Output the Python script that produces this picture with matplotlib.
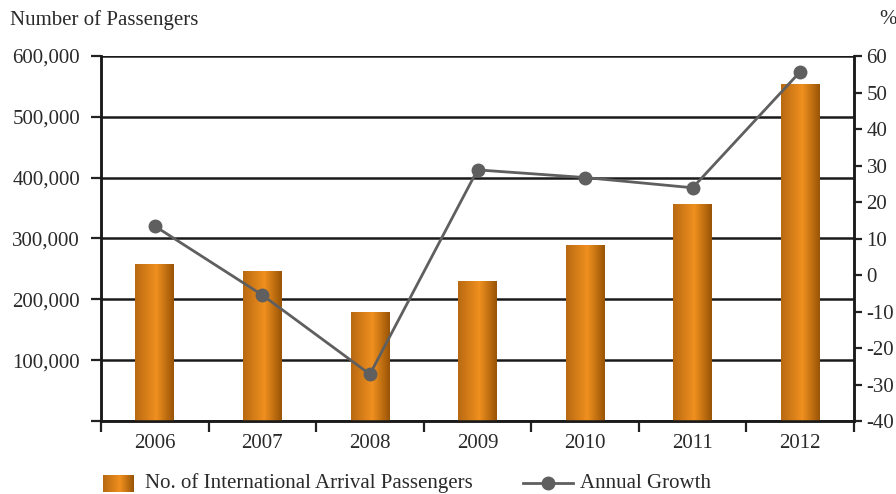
import matplotlib
matplotlib.use('Agg')
import matplotlib.pyplot as plt
import numpy as np
from matplotlib.colors import LinearSegmentedColormap
from matplotlib.lines import Line2D
from matplotlib.ticker import FuncFormatter

years = ['2006', '2007', '2008', '2009', '2010', '2011', '2012']
passengers = [258000, 245000, 178000, 228500, 289000, 356500, 553000]
growth = [13.4, -5.5, -27.2, 28.8, 26.7, 23.9, 55.7]

plt.rcParams['font.family'] = ['Liberation Serif', 'DejaVu Serif']
plt.rcParams['font.size'] = 15
plt.rcParams['axes.unicode_minus'] = False
txt_col = '#2a2a2a'

fig = plt.figure(figsize=(8.96, 4.94), dpi=100)
ax1 = fig.add_axes([101 / 896, 1 - 421 / 494, 753 / 896, 365 / 494])
ax2 = ax1.twinx()

x = np.arange(len(years))
bars = ax1.bar(x, passengers, width=0.36, color='none', edgecolor='none', zorder=3)

# orange gradient inside each bar
orange = LinearSegmentedColormap.from_list(
    'orng', [(0, '#b86912'), (0.55, '#f0901f'), (1, '#985406')])
grad = np.linspace(0, 1, 256).reshape(1, -1)
for b in bars:
    ax1.imshow(grad, cmap=orange, aspect='auto', zorder=3,
               extent=[b.get_x(), b.get_x() + b.get_width(), 0, b.get_height()])

ax1.set_xlim(-0.5, len(years) - 0.5)
ax1.set_ylim(0, 600000)
ax1.set_yticks(range(0, 600001, 100000))
ax1.yaxis.set_major_formatter(FuncFormatter(lambda v, p: '{:,.0f}'.format(v) if v else ''))
ax1.set_xticks(x)
ax1.set_xticklabels(years)
ax1.set_xticks(np.arange(-0.5, len(years)), minor=True)
ax1.tick_params(axis='x', which='major', length=0, pad=9, colors=txt_col)
ax1.tick_params(axis='x', which='minor', length=8, width=1.6, direction='out', color='#222222')
ax1.tick_params(axis='y', length=7, width=1.6, direction='out', color='#222222',
                labelcolor=txt_col, pad=8)
ax1.grid(axis='y', color='#1a1a1a', linewidth=1.8, zorder=1)
ax1.set_axisbelow(True)

ax2.plot(x, growth, color='#5f5f5f', linewidth=2, marker='o', markersize=9, zorder=5)
ax2.set_ylim(-40, 60)
ax2.set_yticks(range(-40, 61, 10))
ax2.tick_params(axis='y', length=6, width=1.6, direction='out', color='#222222',
                labelcolor=txt_col, pad=3)

for a in (ax1, ax2):
    a.spines['top'].set_visible(False)
    for s in ('left', 'right', 'bottom'):
        a.spines[s].set_linewidth(1.8)
        a.spines[s].set_color('#1a1a1a')

fig.text(10 / 896, 1 - 20 / 494, 'Number of Passengers', ha='left', va='center',
         color=txt_col)
fig.text(879 / 896, 1 - 20 / 494, '%', ha='left', va='center', color=txt_col)

# legend drawn by hand so the swatch keeps the gradient
sw = fig.add_axes([103 / 896, 1 - 492 / 494, 30 / 896, 17 / 494])
sw.imshow(grad, cmap=orange, aspect='auto')
sw.axis('off')
fig.text(145 / 896, 1 - 483 / 494, 'No. of International Arrival Passengers',
         ha='left', va='center', color=txt_col)
fig.add_artist(Line2D([523 / 896, 573 / 896], [1 - 483 / 494, 1 - 483 / 494],
                      transform=fig.transFigure, color='#5f5f5f', linewidth=2))
fig.add_artist(Line2D([548 / 896], [1 - 483 / 494], transform=fig.transFigure,
                      color='#5f5f5f', marker='o', markersize=9))
fig.text(580 / 896, 1 - 483 / 494, 'Annual Growth', ha='left', va='center',
         color=txt_col)

fig.savefig('out.png', dpi=100)
